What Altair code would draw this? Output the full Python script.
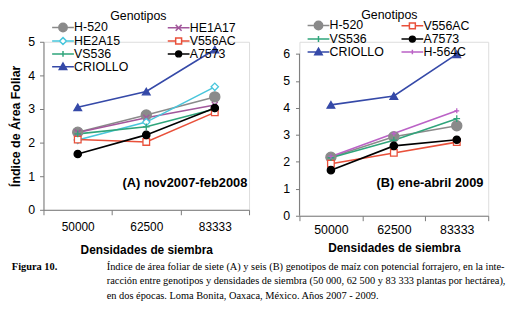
import altair as alt
import pandas as pd

# ---------------- data ----------------
densidades = ["50000", "62500", "83333"]

genotipos_a = ["H-520", "HE1A17", "HE2A15", "V556AC", "VS536", "A7573", "CRIOLLO"]
a_h520 = [2.31, 2.82, 3.36]
a_he1a17 = [2.30, 2.74, 3.12]
a_he2a15 = [2.08, 2.61, 3.66]
a_v556ac = [2.09, 2.02, 2.90]
a_vs536 = [2.26, 2.47, 3.00]
a_a7573 = [1.66, 2.23, 3.03]
a_criollo = [3.05, 3.52, 4.77]

genotipos_b = ["H-520", "V556AC", "VS536", "A7573", "CRIOLLO", "H-564C"]
b_h520 = [2.17, 2.93, 3.34]
b_v556ac = [1.93, 2.33, 2.73]
b_vs536 = [2.15, 2.80, 3.60]
b_a7573 = [1.69, 2.59, 2.82]
b_criollo = [4.11, 4.44, 5.99]
b_h564c = [2.20, 3.05, 3.89]

series_a = [a_h520, a_he1a17, a_he2a15, a_v556ac, a_vs536, a_a7573, a_criollo]
series_b = [b_h520, b_v556ac, b_vs536, b_a7573, b_criollo, b_h564c]

caption_lines = [
    "Índice de área foliar de siete (A) y seis (B) genotipos de maíz con potencial forrajero, en la inte-",
    "racción entre genotipos y densidades de siembra (50 000, 62 500 y 83 333 plantas por hectárea),",
    "en dos épocas. Loma Bonita, Oaxaca, México. Años 2007 - 2009.",
]


def table(names, series):
    rows = []
    for g, vals in zip(names, series):
        for d, v in zip(densidades, vals):
            rows.append({"g": g, "dens": d, "iaf": v})
    return pd.DataFrame(rows)


df_a = table(genotipos_a, series_a)
df_b = table(genotipos_b, series_b)

# ---------------- styles ----------------
COL = {
    "H-520": "#8a8a8a",
    "HE1A17": "#a2579b",
    "HE2A15": "#48c6dc",
    "V556AC": "#e9503a",
    "VS536": "#2fa57b",
    "A7573": "#000000",
    "CRIOLLO": "#3549a8",
    "H-564C": "#bb62c6",
}
FILL = {
    "H-520": "#8a8a8a", "HE1A17": "#a2579b", "HE2A15": "#ffffff",
    "V556AC": "#ffffff", "VS536": "#2fa57b", "A7573": "#000000",
    "CRIOLLO": "#3549a8", "H-564C": "#bb62c6",
}
PLUS = "M-1,0L1,0M0,-1L0,1"
XSYM = "M-1,-1L1,1M-1,1L1,-1"
SHAPE = {
    "H-520": ("circle", 105), "HE1A17": (XSYM, 36), "HE2A15": ("diamond", 55),
    "V556AC": ("square", 45), "VS536": (PLUS, 45), "A7573": ("circle", 55),
    "CRIOLLO": ("triangle-up", 60), "H-564C": (PLUS, 25),
}

R = 2.2


def seg(gap=0.0):
    if gap == 0:
        return f"M{-R},0L{R},0"
    return f"M{-R},0L{-gap},0M{gap},0L{R},0"


def circ(r):
    return f"M{-r},0A{r},{r},0,1,0,{r},0A{r},{r},0,1,0,{-r},0Z"


LEG = {
    "H-520": seg() + circ(0.85),
    "HE1A17": seg() + "M-0.6,-0.6L0.6,0.6M-0.6,0.6L0.6,-0.6",
    "HE2A15": seg(0.7) + "M0,-0.7L0.7,0L0,0.7L-0.7,0Z",
    "V556AC": seg(0.6) + "M-0.6,-0.6L0.6,-0.6L0.6,0.6L-0.6,0.6Z",
    "VS536": seg() + "M0,-0.6L0,0.6",
    "A7573": seg() + circ(0.6),
    "CRIOLLO": seg() + "M0,-0.75L0.75,0.55L-0.75,0.55Z",
    "H-564C": seg() + "M0,-0.45L0,0.45",
}

FONT = "Liberation Sans"
one_row = pd.DataFrame({"k": [0]})


def text_layer(txt, x, y, size, weight="normal", font=FONT, align="left"):
    return (
        alt.Chart(one_row)
        .mark_text(text=txt, font=font, fontSize=size, fontWeight=weight,
                   align=align, baseline="middle", color="#000")
        .encode(x=alt.value(x), y=alt.value(y))
    )


def panel(df, names, ydom, yvals, ytitle, legend, legtitle, ann, ax_x, ax_y, axis_rule):
    stroke_scale = alt.Scale(domain=names, range=[COL[g] for g in names])
    fill_scale = alt.Scale(domain=names, range=[FILL[g] for g in names])
    shape_scale = alt.Scale(domain=names, range=[LEG[g] for g in names])

    x = alt.X(
        "dens:N",
        sort=densidades,
        scale=alt.Scale(type="band", domain=densidades, paddingInner=0, paddingOuter=0),
        axis=alt.Axis(title="Densidades de siembra", labelAngle=0, tickBand="extent", **ax_x),
    )
    y_scale = alt.Scale(domain=ydom, nice=False, zero=True)
    y_axis = alt.Axis(values=yvals, title=ytitle, grid=False, **ax_y)
    y = alt.Y("iaf:Q", scale=y_scale, axis=y_axis)
    base = alt.Chart(df)

    # legend carrier: no visible marks, only the legend built from the scales
    carrier = (
        base.transform_filter("datum.iaf < 0")
        .mark_point(filled=True, size=100, strokeWidth=1.5)
        .encode(
            x=x,
            y=y,
            stroke=alt.Stroke("g:N", scale=stroke_scale, legend=legend),
            fill=alt.Fill("g:N", scale=fill_scale, legend=legend),
            shape=alt.Shape("g:N", scale=shape_scale, legend=legend),
        )
    )
    layers = [carrier]
    if axis_rule is not None:
        layers.append(
            alt.Chart(one_row).mark_rule(color="#7a7a7a", strokeWidth=1).encode(
                x=alt.value(0),
                y=alt.YDatum(0, scale=y_scale, axis=y_axis),
                y2=alt.datum(axis_rule),
            )
        )
    for g in names:
        layers.append(
            base.transform_filter(alt.datum.g == g)
            .mark_line(strokeWidth=1.6, color=COL[g])
            .encode(x=x, y=y)
        )
    for g in names:
        shp, sz = SHAPE[g]
        layers.append(
            base.transform_filter(alt.datum.g == g)
            .mark_point(shape=shp, size=sz, filled=True, fill=FILL[g], stroke=COL[g],
                        strokeWidth=1.3, opacity=1)
            .encode(x=x, y=y)
        )
    layers.append(text_layer(ann[0], ann[1], ann[2], 13, "bold"))
    # legend heading
    layers.append(text_layer("Genotipos", legtitle[0], legtitle[1], 12.5, align="center"))
    return layers


def make_legend(lx, ly, colpad, rowpad):
    return alt.Legend(
        title=None, orient="none", legendX=lx, legendY=ly, columns=2,
        direction="horizontal",
        columnPadding=colpad, rowPadding=rowpad, symbolSize=100, symbolStrokeWidth=1.5,
        symbolOpacity=1, labelFont=FONT, labelFontSize=12.5, labelColor="#000",
        labelOffset=5, padding=0,
    )


axis_common = dict(domainColor="#7a7a7a", tickColor="#7a7a7a", labelColor="#000",
                   titleColor="#000", labelFont=FONT, titleFont=FONT)

layers_a = panel(
    df_a, genotipos_a, [0, 5], [0, 1, 2, 3, 4, 5], "Índice de Área Foliar",
    make_legend(13.5, -21, 36, -3.8),
    (96, -26),
    ("(A) nov2007-feb2008", 80, 143),
    dict(tickSize=5, labelFontSize=12, labelPadding=6.5, titleFontSize=12,
         titleFontWeight="bold", titlePadding=13, **axis_common),
    dict(tickSize=4, labelFontSize=12.5, labelPadding=5, titleFontSize=12.5,
         titleFontWeight="bold", titlePadding=5, **axis_common),
    None,
)
# caption (text only) attached to the left panel
layers_a.append(text_layer("Figura 10.", -32, 228, 10.5, "bold", "Liberation Serif"))
for i, line in enumerate(caption_lines):
    layers_a.append(text_layer(line, 64, 228 + 14.5 * i, 10.5, "normal", "Liberation Serif"))

layers_b = panel(
    df_b, genotipos_b, [0, 6.45], [0, 1, 2, 3, 4, 5, 6], None,
    make_legend(13, -23, 14, -4.5),
    (91, -27.3),
    ("(B) ene-abril 2009", 78, 143),
    dict(tickSize=5, labelFontSize=12.5, labelPadding=3, titleFontSize=12,
         titleFontWeight="bold", titlePadding=7, **axis_common),
    dict(tickSize=4, labelFontSize=12.5, labelPadding=6, domain=False, **axis_common),
    6,
)

left = alt.layer(*layers_a).properties(width=208, height=170)
right = alt.layer(*layers_b).properties(width=191, height=176)

chart = (
    alt.hconcat(left, right, spacing=51, bounds="flush")
    .resolve_scale(stroke="independent", fill="independent", shape="independent")
    .resolve_legend(stroke="independent", fill="independent", shape="independent")
    .properties(padding={"left": 9, "top": 6.5, "right": 0, "bottom": 0}, background="white")
    .configure_view(stroke=None)
    .configure(font=FONT)
)

chart.save("out.html", embed_options={"renderer": "svg", "actions": False})
